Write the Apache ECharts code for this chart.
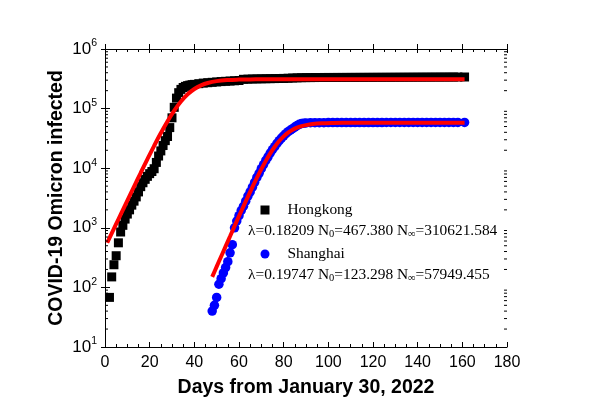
<!DOCTYPE html>
<html>
<head>
<meta charset="utf-8">
<script src="https://cdn.jsdelivr.net/npm/echarts@6/dist/echarts.min.js"></script>
<style>
html,body{margin:0;padding:0;background:#fff;}
#chart{width:589px;height:416px;}
</style>
</head>
<body>
<div id="chart"></div>
<script>
// ---- data ----
const hkDays  = [2,3,4,5,6,7,8,9,10,11,12,13,14,15,16,17,18,19,20,21,22,23,24,25,26,27,28,29,30,31,32,33,34,35,36,37,38,39,
  40,42,44,46,48,50,52,54,56,58,60,62,64,66,68,70,72,74,76,78,80,82,84,86,88,90,92,94,96,98,100,
  102,104,106,108,110,112,114,116,118,120,122,124,126,128,130,132,134,136,138,140,142,144,146,148,150,152,154,156,158,161];
const hkCases = [68,150,240,340,560,850,1100,1400,1700,2000,2400,2800,3300,4000,4900,5700,6500,7300,8100,8800,9800,12500,16000,19500,24000,29000,34000,48000,70000,105000,150000,185000,210000,226000,236000,243000,248000,252000,
  255000,262000,268000,272000,276000,280000,284000,287000,290000,293000,296000,310000,312000,314000,315000,316000,317000,318000,319000,320000,321000,323000,326000,328000,330000,331000,331500,332000,332500,333000,333000,
  333200,333400,333600,333800,334000,334200,334400,334600,334800,335000,335200,335400,335600,335800,336000,336200,336400,336600,336800,337000,337200,337400,337600,337800,338000,338200,338400,338600,338800,339000];

const shDays  = [48,49,50,51,52,53,54,55,56,57,58,59,60,61,62,63,64,65,66,67,68,69,70,71,72,73,74,75,76,77,78,79,80,81,82,83,84,85,86,87,88,89,90,
  92,94,96,98,100,102,104,106,108,110,112,114,116,118,120,122,124,126,128,130,132,134,136,138,140,142,144,146,148,150,152,154,156,158,161];
const shCases = [40,50,68,113,140,175,215,270,380,520,1000,1300,1600,1950,2300,2800,3400,4000,4800,5800,7000,8200,9800,11500,13500,15500,18000,20500,23000,26000,29000,32000,35000,38000,41000,43500,46000,49000,52000,54500,56000,57000,57500,
  58000,58050,58100,58150,58200,58200,58250,58250,58300,58300,58300,58350,58350,58400,58400,58400,58400,58450,58450,58450,58450,58500,58500,58500,58500,58500,58500,58500,58500,58500,58500,58500,58500,58500,58500];

// fitted logistic curves
const hkFitDays = [1,3,5,7,10,13,16,19,22,25,28,31,34,37,40,43,46,50,55,60,65,70,80,90,100,120,140,161];
const hkFit     = [561,806,1159,1666,2865,4915,8388,14204,23735,38838,61467,92778,131636,173767,213353,245734,269420,289275,301670,306960,309140,310023,310524,310608,310619,310621,310621,310621];
const shFitDays = [48,50,52,54,56,58,60,62,64,66,68,70,72,74,76,78,80,82,84,86,88,90,93,97,102,107,117,130,161];
const shFit     = [150,223,330,488,720,1065,1566,2294,3338,4825,6900,9663,13273,17750,22925,28560,34220,39489,44077,47810,50700,52859,55017,56582,57432,57756,57922,57947,57949];

const logMinorTicks = [20,30,40,50,60,70,80,90,200,300,400,500,600,700,800,900,2000,3000,4000,5000,6000,7000,8000,9000,20000,30000,40000,50000,60000,70000,80000,90000,200000,300000,400000,500000,600000,700000,800000,900000];

const legendNames = ['Hongkong','Shanghai'];
const fitTexts = [
  'λ=0.18209 N{s|0}=467.380 N{s|∞}=310621.584',
  'λ=0.19747 N{s|0}=123.298 N{s|∞}=57949.455'
];
const xTitle = 'Days from January 30, 2022';
const yTitle = 'COVID-19 Omicron infected';

// ---- chart ----
const sans = '"Liberation Sans", Arial, Helvetica, sans-serif';
const serif = '"Liberation Serif", "Times New Roman", serif';
const chart = echarts.init(document.getElementById('chart'), null, {renderer: 'canvas'});

const xCommon = {type: 'value', min: 0, max: 180, interval: 20};
const yCommon = {type: 'log', min: 10, max: 1000000, logBase: 10};

const option = {
  animation: false,
  backgroundColor: '#fff',
  grid: {left: 105, right: 82, top: 49, bottom: 69, containLabel: false},
  xAxis: [
    Object.assign({}, xCommon, {
      position: 'bottom',
      name: xTitle, nameLocation: 'middle', nameGap: 31, nameMoveOverlap: false,
      nameTextStyle: {fontFamily: sans, fontWeight: 'bold', fontSize: 19.5, color: '#000'},
      axisLine: {show: true, lineStyle: {color: '#000', width: 1}},
      axisTick: {show: true, inside: true, length: 5, lineStyle: {color: '#000'}},
      minorTick: {show: true, splitNumber: 4, length: 3, lineStyle: {color: '#000'}},
      axisLabel: {show: true, fontFamily: sans, fontSize: 16, color: '#000', margin: 8},
      splitLine: {show: false}
    }),
    Object.assign({}, xCommon, {
      position: 'top',
      axisLine: {show: true, lineStyle: {color: '#000', width: 1}},
      axisTick: {show: true, inside: true, length: 4, lineStyle: {color: '#000'}},
      minorTick: {show: true, splitNumber: 4, length: 3, lineStyle: {color: '#000'}},
      axisLabel: {show: false},
      splitLine: {show: false}
    }),
    Object.assign({}, xCommon, {
      position: 'top',
      axisLine: {show: false},
      axisTick: {show: true, inside: false, length: 5, lineStyle: {color: '#000'}},
      axisLabel: {show: false},
      splitLine: {show: false}
    })
  ],
  yAxis: [
    Object.assign({}, yCommon, {
      position: 'left',
      name: yTitle, nameLocation: 'middle', nameGap: 38, nameMoveOverlap: false,
      nameTextStyle: {fontFamily: sans, fontWeight: 'bold', fontSize: 19.5, color: '#000'},
      axisLine: {show: true, lineStyle: {color: '#000', width: 1}},
      axisTick: {show: true, inside: true, length: 5, lineStyle: {color: '#000'}},
      axisLabel: {
        show: true, margin: 8,
        formatter: function (v) { return '{b|10}{s|' + Math.round(Math.log10(v)) + '}'; },
        rich: {
          b: {fontFamily: sans, fontSize: 17, color: '#000', lineHeight: 22, verticalAlign: 'middle'},
          s: {fontFamily: sans, fontSize: 10.5, color: '#000', lineHeight: 11, verticalAlign: 'top'}
        }
      },
      splitLine: {show: false}
    }),
    Object.assign({}, yCommon, {
      position: 'right',
      axisLine: {show: true, lineStyle: {color: '#000', width: 1}},
      axisTick: {show: true, inside: true, length: 4, lineStyle: {color: '#000'}},
      axisLabel: {show: false},
      splitLine: {show: false}
    }),
    Object.assign({}, yCommon, {
      position: 'right',
      axisLine: {show: false},
      axisTick: {show: true, inside: false, length: 5, lineStyle: {color: '#000'}},
      axisLabel: {show: false},
      splitLine: {show: false}
    })
  ],
  legend: {
    data: legendNames,
    orient: 'vertical',
    left: 255.5, top: 197.5,
    itemWidth: 9, itemHeight: 9, itemGap: 29,
    selectedMode: false,
    textStyle: {fontFamily: serif, fontSize: 15.4, color: '#000', lineHeight: 15, padding: [0, 0, 0, 13]}
  },
  graphic: [
    {
      type: 'text', x: 248, y: 231, silent: true,
      style: {
        text: fitTexts[0], fill: '#000', fontFamily: serif, fontSize: 15.4, verticalAlign: 'middle',
        rich: {s: {fontFamily: serif, fontSize: 10.5, lineHeight: 10, verticalAlign: 'bottom'}},
        lineHeight: 17
      }
    },
    {
      type: 'text', x: 248, y: 275, silent: true,
      style: {
        text: fitTexts[1], fill: '#000', fontFamily: serif, fontSize: 15.4, verticalAlign: 'middle',
        rich: {s: {fontFamily: serif, fontSize: 10.5, lineHeight: 10, verticalAlign: 'bottom'}},
        lineHeight: 17
      }
    }
  ],
  series: [
    {
      name: 'Hongkong', type: 'scatter', xAxisIndex: 0, yAxisIndex: 0,
      symbol: 'rect', symbolSize: 9,
      itemStyle: {color: '#000', opacity: 1},
      data: hkDays.map((d, i) => [d, hkCases[i]]), z: 2
    },
    {
      name: 'Shanghai', type: 'scatter', xAxisIndex: 0, yAxisIndex: 0,
      symbol: 'circle', symbolSize: 9.5,
      itemStyle: {color: '#0000ff', opacity: 1},
      data: shDays.map((d, i) => [d, shCases[i]]), z: 2
    },
    {
      name: 'Hongkong fit', type: 'line', xAxisIndex: 0, yAxisIndex: 0,
      showSymbol: false, smooth: 0.4,
      lineStyle: {color: '#ff0000', width: 4},
      data: hkFitDays.map((d, i) => [d, hkFit[i]]), z: 3
    },
    {
      name: 'Shanghai fit', type: 'line', xAxisIndex: 0, yAxisIndex: 0,
      showSymbol: false, smooth: 0.4,
      lineStyle: {color: '#ff0000', width: 4},
      data: shFitDays.map((d, i) => [d, shFit[i]]), z: 3
    },
    {
      name: 'minor log ticks', type: 'custom', xAxisIndex: 0, yAxisIndex: 0,
      silent: true, clip: false, z: 5,
      data: logMinorTicks.map(v => [0, v]),
      renderItem: function (params, api) {
        const cs = params.coordSys;
        const y = api.coord([0, api.value(1)])[1];
        const st = {stroke: '#000', lineWidth: 1};
        return {
          type: 'group',
          children: [
            {type: 'line', shape: {x1: cs.x, y1: y, x2: cs.x + 3, y2: y}, style: st},
            {type: 'line', shape: {x1: cs.x + cs.width - 3, y1: y, x2: cs.x + cs.width, y2: y}, style: st}
          ]
        };
      }
    }
  ]
};
chart.setOption(option);
</script>
</body>
</html>
